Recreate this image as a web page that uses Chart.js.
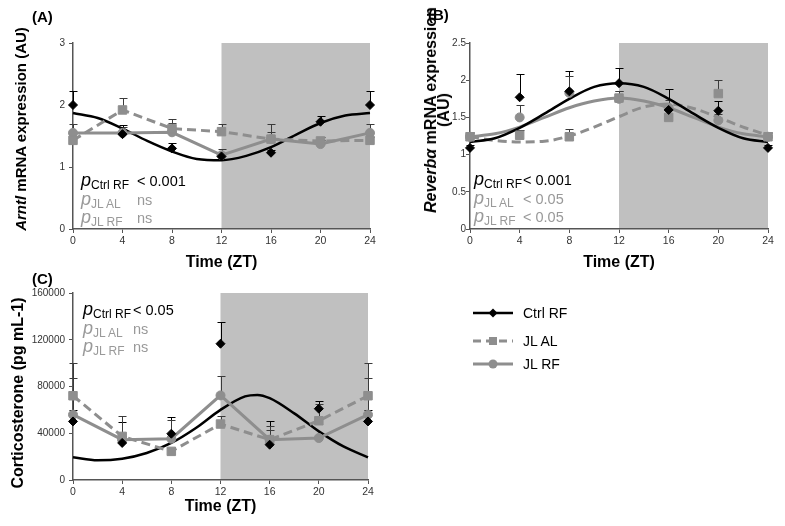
<!DOCTYPE html>
<html>
<head>
<meta charset="utf-8">
<script src="https://cdn.jsdelivr.net/npm/chart.js@4.4.1/dist/chart.umd.min.js"></script>
<style>
  body { margin: 0; background: #fff; width: 785px; height: 526px; position: relative; overflow: hidden;
         font-family: "Liberation Sans", Arial, sans-serif; }
  canvas { position: absolute; }
  .tag { position: absolute; font-weight: bold; font-size: 15px; line-height: 16px; }
  .ytitle { position: absolute; white-space: nowrap; font-weight: bold; text-align: center;
            transform: translate(-50%, -50%) rotate(-90deg); }
  .pv { position: absolute; font-size: 14.5px; line-height: 18.5px; color: #000; white-space: nowrap; }
  .pv > div { height: 18.5px; }
  .pv .g { color: #999; }
  .pv .lab { display: inline-block; }
  .pv i { font-size: 18px; line-height: 0; }
  .pv sub { font-size: 12px; line-height: 0; vertical-align: -3px; }
  .leg { position: absolute; left: 473px; font-size: 14px; }
  .leg div { position: absolute; left: 0; height: 16px; white-space: nowrap; }
  .leg svg { position: absolute; left: 0; top: 0; }
  .leg span { position: absolute; left: 50px; top: 0; line-height: 16px; }
</style>
</head>
<body>

<canvas id="chartA" width="385" height="272" style="left:0;top:0"></canvas>
<canvas id="chartB" width="390" height="272" style="left:395px;top:0"></canvas>
<canvas id="chartC" width="385" height="244" style="left:0;top:272px"></canvas>

<div class="tag" style="left:32px;top:9px">(A)</div>
<div class="tag" style="left:428px;top:7px">(B)</div>
<div class="tag" style="left:32px;top:271px">(C)</div>

<div class="ytitle" style="left:20px;top:129px;font-size:15px"><i>Arntl</i> mRNA expression (AU)</div>
<div class="ytitle" style="left:437px;top:110px;font-size:16px;line-height:13px"><i>Reverbα</i> mRNA expression<br>(AU)</div>
<div class="ytitle" style="left:18px;top:393px;font-size:16px">Corticosterone (pg mL-1)</div>

<div class="pv" style="left:81px;top:172px">
  <div><span class="lab" style="width:56px"><i>p</i><sub>Ctrl RF</sub></span>&lt; 0.001</div>
  <div class="g"><span class="lab" style="width:56px"><i>p</i><sub>JL AL</sub></span>ns</div>
  <div class="g"><span class="lab" style="width:56px"><i>p</i><sub>JL RF</sub></span>ns</div>
</div>
<div class="pv" style="left:474px;top:171px">
  <div><span class="lab" style="width:49px"><i>p</i><sub>Ctrl RF</sub></span>&lt; 0.001</div>
  <div class="g"><span class="lab" style="width:49px"><i>p</i><sub>JL AL</sub></span>&lt; 0.05</div>
  <div class="g"><span class="lab" style="width:49px"><i>p</i><sub>JL RF</sub></span>&lt; 0.05</div>
</div>
<div class="pv" style="left:83px;top:301px">
  <div><span class="lab" style="width:50px"><i>p</i><sub>Ctrl RF</sub></span>&lt; 0.05</div>
  <div class="g"><span class="lab" style="width:50px"><i>p</i><sub>JL AL</sub></span>ns</div>
  <div class="g"><span class="lab" style="width:50px"><i>p</i><sub>JL RF</sub></span>ns</div>
</div>

<div class="leg" style="top:0">
  <div style="top:305px">
    <svg width="42" height="16"><line x1="0" y1="8" x2="40" y2="8" stroke="#000" stroke-width="2.5"/>
      <polygon points="20,3.5 24.5,8 20,12.5 15.5,8" fill="#000"/></svg>
    <span>Ctrl RF</span>
  </div>
  <div style="top:333px">
    <svg width="42" height="16"><line x1="0" y1="8" x2="40" y2="8" stroke="#8e8e8e" stroke-width="3" stroke-dasharray="8,5"/>
      <rect x="16" y="4" width="8" height="8" fill="#8e8e8e"/></svg>
    <span>JL AL</span>
  </div>
  <div style="top:356px">
    <svg width="42" height="16"><line x1="0" y1="8" x2="40" y2="8" stroke="#8e8e8e" stroke-width="3"/>
      <circle cx="20" cy="8" r="4.5" fill="#8e8e8e"/></svg>
    <span>JL RF</span>
  </div>
</div>

<script>
// sampling times (ZT) of the measured points and of the cosinor fit curves
const zt = [0, 4, 8, 12, 16, 20, 24];
const fitZt = [0, 2, 4, 6, 8, 10, 12, 14, 16, 18, 20, 22, 24];
const corFitZt = [0, 2, 4, 6, 8, 10, 12, 14, 15, 16, 18, 20, 22, 24];

// (A) Arntl mRNA
const arntlCtrl = [2.00, 1.53, 1.30, 1.17, 1.23, 1.73, 2.00];
const arntlCtrlErr = [0.23, 0.15, 0.08, 0.06, 0.05, 0.09, 0.23];
const arntlAL = [1.43, 1.92, 1.62, 1.57, 1.45, 1.42, 1.43];
const arntlALErr = [0.05, 0.20, 0.15, 0.12, 0.25, 0.07, 0.05];
const arntlRF = [1.55, 1.55, 1.56, 1.19, 1.45, 1.37, 1.55];
const arntlRFErr = [0.15, 0.10, 0.15, 0.10, 0.11, 0.06, 0.15];
const arntlCtrlFit = [1.87, 1.79, 1.62, 1.42, 1.25, 1.13, 1.11, 1.18, 1.32, 1.52, 1.71, 1.83, 1.87];

// (B) Reverb-alpha mRNA
const revCtrl = [1.09, 1.77, 1.85, 1.96, 1.60, 1.59, 1.09];
const revCtrlErr = [0.04, 0.31, 0.28, 0.20, 0.28, 0.13, 0.04];
const revAL = [1.24, 1.26, 1.24, 1.76, 1.50, 1.82, 1.24];
const revALErr = [0.07, 0.07, 0.11, 0.10, 0.10, 0.18, 0.07];
const revRF = [1.24, 1.50, 1.83, 1.75, 1.63, 1.46, 1.24];
const revRFErr = [0.05, 0.17, 0.22, 0.10, 0.10, 0.08, 0.05];
const revCtrlFit = [1.17, 1.22, 1.36, 1.55, 1.75, 1.91, 1.96, 1.91, 1.75, 1.55, 1.36, 1.22, 1.17];
const revALFit = [1.24, 1.19, 1.17, 1.18, 1.25, 1.37, 1.51, 1.64, 1.68, 1.62, 1.50, 1.37, 1.26];
const revRFFit = [1.24, 1.28, 1.37, 1.50, 1.63, 1.72, 1.76, 1.72, 1.63, 1.50, 1.37, 1.28, 1.24];

// (C) Corticosterone
const corCtrl = [50100, 31700, 39600, 116600, 30200, 61000, 50100];
const corCtrlErr = [10000, 17900, 14300, 18600, 19900, 6300, 10000];
const corAL = [72100, 37300, 24500, 47900, 34500, 50700, 72100];
const corALErr = [28000, 17700, 3000, 6500, 12000, 14300, 28000];
const corRF = [55900, 34500, 35300, 72400, 34500, 35900, 55900];
const corRFErr = [31400, 3000, 15700, 16200, 8500, 2000, 31400];
const corCtrlFit = [19400, 16800, 18200, 23100, 31700, 44500, 60000, 71500, 72800, 70000, 57000, 41600, 28700, 19400];

const BLACK = '#000000';
const GRAY = '#8e8e8e';
const AXIS = '#555555';

function pts(xs, ys) {
  return xs.map((x, i) => ({ x: x, y: ys[i] }));
}

// measured means: markers (optionally joined by straight lines) with upper error bars
function means(ys, errs, color, style, radius, joined, dash) {
  return {
    data: pts(zt, ys),
    errors: errs,
    errColor: color === BLACK ? '#000' : '#3a3a3a',
    showLine: joined,
    borderColor: color,
    backgroundColor: color,
    borderWidth: 3,
    borderDash: dash || [],
    pointStyle: style,
    pointRadius: radius,
    pointBorderWidth: 1,
    tension: 0,
    clip: false
  };
}

// fitted curve, no markers
function fit(xs, ys, color, width, dash) {
  return {
    data: pts(xs, ys),
    borderColor: color,
    borderWidth: width,
    borderDash: dash || [],
    pointRadius: 0,
    cubicInterpolationMode: 'monotone',
    clip: false
  };
}

const shadePlugin = {
  id: 'shade',
  beforeDraw(chart) {
    const { ctx, chartArea, scales } = chart;
    const x0 = scales.x.getPixelForValue(12);
    const x1 = scales.x.getPixelForValue(24);
    ctx.save();
    ctx.fillStyle = '#c0c0c0';
    ctx.fillRect(x0, chartArea.top, x1 - x0, chartArea.bottom - chartArea.top);
    ctx.restore();
  },
  beforeDatasetsDraw(chart) {
    const { ctx, scales } = chart;
    ctx.save();
    ctx.lineWidth = 1;
    chart.data.datasets.forEach((ds, i) => {
      if (!ds.errors) return;
      const meta = chart.getDatasetMeta(i);
      ctx.strokeStyle = ds.errColor;
      meta.data.forEach((pt, j) => {
        const top = Math.round(scales.y.getPixelForValue(ds.data[j].y + ds.errors[j])) + 0.5;
        const x = Math.round(pt.x) + 0.5;
        ctx.beginPath();
        ctx.moveTo(x, pt.y);
        ctx.lineTo(x, top);
        ctx.moveTo(x - 4, top);
        ctx.lineTo(x + 4, top);
        ctx.stroke();
      });
    });
    ctx.restore();
  }
};

function makePanel(id, o) {
  const tickGrid = { drawOnChartArea: false, drawTicks: true, tickLength: 4, color: AXIS };
  return new Chart(document.getElementById(id), {
    type: 'line',
    data: { datasets: o.datasets },
    options: {
      responsive: false,
      animation: false,
      devicePixelRatio: 1,
      layout: { padding: { top: o.top, right: o.right, left: 0, bottom: 0 } },
      plugins: { legend: { display: false }, tooltip: { enabled: false } },
      scales: {
        x: {
          type: 'linear', min: 0, max: 24,
          afterFit: s => { s.height = o.xh; },
          grid: tickGrid,
          border: { color: AXIS, width: 1.5 },
          ticks: { stepSize: 4, color: '#333', font: { family: 'Liberation Sans', size: 10.5 }, padding: 2, maxRotation: 0 },
          title: { display: true, text: 'Time (ZT)', color: '#000', padding: 0,
                   font: { family: 'Liberation Sans', size: 16, weight: 'bold' } }
        },
        y: {
          type: 'linear', min: 0, max: o.ymax,
          afterFit: s => { s.width = o.yw; },
          grid: tickGrid,
          border: { color: AXIS, width: 1.5 },
          ticks: { stepSize: o.ystep, color: '#333', font: { family: 'Liberation Sans', size: 10 }, padding: o.ypad,
                   callback: v => String(v) }
        }
      }
    },
    plugins: [shadePlugin]
  });
}

makePanel('chartA', {
  top: 43, right: 15, yw: 73, xh: 43, ymax: 3, ystep: 1, ypad: 4,
  datasets: [
    means(arntlCtrl, arntlCtrlErr, BLACK, 'rectRot', 4.5, false),
    means(arntlAL, arntlALErr, GRAY, 'rect', 6, true, [9, 5]),
    means(arntlRF, arntlRFErr, GRAY, 'circle', 4.5, true),
    fit(fitZt, arntlCtrlFit, BLACK, 2.5)
  ]
});

makePanel('chartB', {
  top: 43, right: 17, yw: 75, xh: 43, ymax: 2.5, ystep: 0.5, ypad: 0,
  datasets: [
    means(revCtrl, revCtrlErr, BLACK, 'rectRot', 4.5, false),
    means(revAL, revALErr, GRAY, 'rect', 6, false),
    means(revRF, revRFErr, GRAY, 'circle', 4.5, false),
    fit(fitZt, revCtrlFit, BLACK, 2.5),
    fit(fitZt, revRFFit, GRAY, 3),
    fit(fitZt, revALFit, GRAY, 3, [9, 5])
  ]
});

makePanel('chartC', {
  top: 21, right: 17, yw: 73, xh: 36, ymax: 160000, ystep: 40000, ypad: 4,
  datasets: [
    means(corCtrl, corCtrlErr, BLACK, 'rectRot', 4.5, false),
    means(corAL, corALErr, GRAY, 'rect', 6, true, [9, 5]),
    means(corRF, corRFErr, GRAY, 'circle', 4.5, true),
    fit(corFitZt, corCtrlFit, BLACK, 2.5)
  ]
});
</script>
</body>
</html>
